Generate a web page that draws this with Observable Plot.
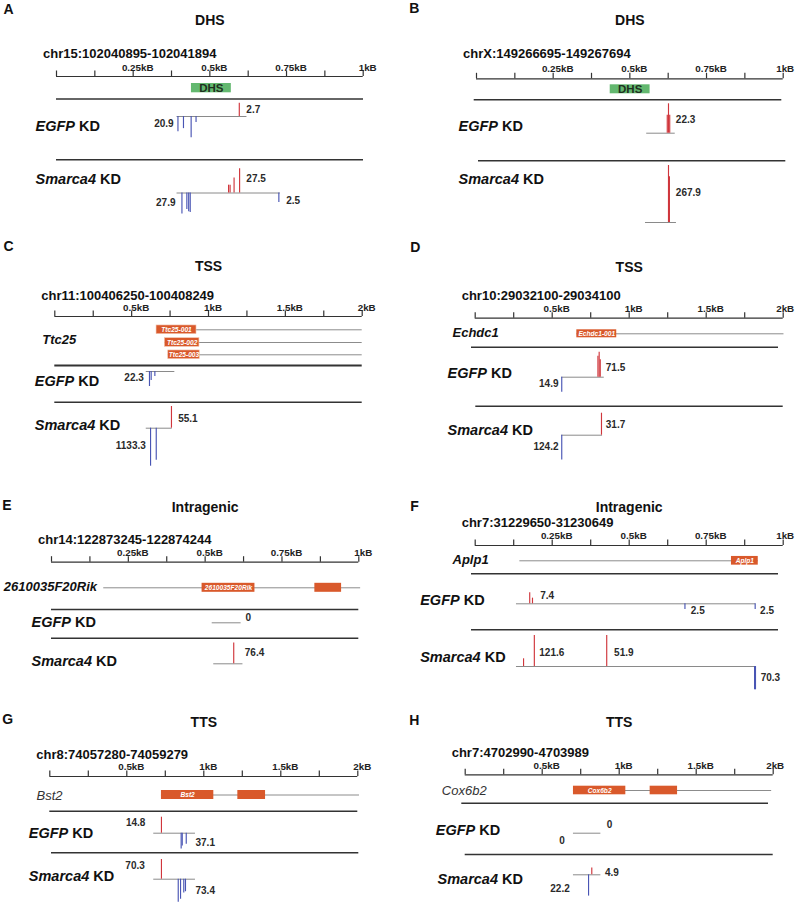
<!DOCTYPE html>
<html>
<head>
<meta charset="utf-8">
<script src="https://cdn.jsdelivr.net/npm/d3@7"></script>
<script src="https://cdn.jsdelivr.net/npm/@observablehq/plot@0.6"></script>
<style>
  html, body { margin: 0; padding: 0; background: #fff; }
  #fig { position: relative; width: 795px; height: 904px; overflow: hidden; background: #fff;
         font-family: "Liberation Sans", Arial, Helvetica, sans-serif; }
  #fig svg { position: absolute; overflow: visible; background: transparent; }
</style>
</head>
<body>
<div id="fig"></div>
<script>
// ================= DATA =================
const panelIds = ["A", "B", "C", "D", "E", "F", "G", "H"];
const panelTitles = ["DHS", "DHS", "TSS", "TSS", "Intragenic", "Intragenic", "TTS", "TTS"];
const regionLabels = [
  "chr15:102040895-102041894", "chrX:149266695-149267694",
  "chr11:100406250-100408249", "chr10:29032100-29034100",
  "chr14:122873245-122874244", "chr7:31229650-31230649",
  "chr8:74057280-74059279", "chr7:4702990-4703989"
];
const spanBp = [1000, 1000, 2000, 2000, 1000, 1000, 2000, 2000];
const tickLabels1kb = ["0.25kB", "0.5kB", "0.75kB", "1kB"];
const tickLabels2kb = ["0.5kB", "1kB", "1.5kB", "2kB"];
const geneNames = [null, null, "Ttc25", "Echdc1", "2610035F20Rik", "Aplp1", "Bst2", "Cox6b2"];
const trackNames = {EGFP: "EGFP KD", Smarca4: "Smarca4 KD"};

const dhsRegions = [
  {panel: "A", start: 440, end: 570, label: "DHS"},
  {panel: "B", start: 436, end: 566, label: "DHS"}
];

const transcriptLines = [
  {panel: "C", row: 0, start: 662, end: 2000},
  {panel: "C", row: 1, start: 716, end: 2000},
  {panel: "C", row: 2, start: 738, end: 2000},
  {panel: "D", row: 0, start: 660, end: 2005},
  {panel: "E", row: 0, start: 170, end: 1006},
  {panel: "F", row: 0, start: 145, end: 919},
  {panel: "G", row: 0, start: 725, end: 2011},
  {panel: "H", row: 0, start: 703, end: 1990}
];

const exons = [
  {panel: "C", row: 0, start: 662, end: 922, label: "Ttc25-001"},
  {panel: "C", row: 1, start: 716, end: 941, label: "Ttc25-002"},
  {panel: "C", row: 2, start: 738, end: 943, label: "Ttc25-003"},
  {panel: "D", row: 0, start: 660, end: 919, label: "Echdc1-001"},
  {panel: "E", row: 0, start: 490, end: 662, label: "2610035F20Rik"},
  {panel: "E", row: 0, start: 857, end: 944, label: ""},
  {panel: "F", row: 0, start: 832, end: 919, label: "Aplp1"},
  {panel: "G", row: 0, start: 725, end: 1065, label: "Bst2"},
  {panel: "G", row: 0, start: 1221, end: 1401, label: ""},
  {panel: "H", row: 0, start: 703, end: 1043, label: "Cox6b2"},
  {panel: "H", row: 0, start: 1201, end: 1379, label: ""}
];

// covered span of each signal track (bp)
const signalSpans = [
  {panel: "A", track: "EGFP", start: 393, end: 621}, {panel: "A", track: "Smarca4", start: 393, end: 730},
  {panel: "B", track: "EGFP", start: 555, end: 648}, {panel: "B", track: "Smarca4", start: 551, end: 652},
  {panel: "C", track: "EGFP", start: 595, end: 781}, {panel: "C", track: "Smarca4", start: 595, end: 764},
  {panel: "D", track: "EGFP", start: 562, end: 838}, {panel: "D", track: "Smarca4", start: 562, end: 827},
  {panel: "E", track: "EGFP", start: 523, end: 617}, {panel: "E", track: "Smarca4", start: 528, end: 623},
  {panel: "F", track: "EGFP", start: 134, end: 911}, {panel: "F", track: "Smarca4", start: 134, end: 911},
  {panel: "G", track: "EGFP", start: 675, end: 946}, {panel: "G", track: "Smarca4", start: 675, end: 946},
  {panel: "H", track: "EGFP", start: 703, end: 881}, {panel: "H", track: "Smarca4", start: 703, end: 881}
];

// signal bars: position (bp) and signed value (+ sense / - antisense)
const signalBars = [
  {panel: "A", track: "EGFP", group: "A+e", pos: 596, value: 2.7},
  {panel: "A", track: "EGFP", group: "A-e", pos: 396, value: -14.9},
  {panel: "A", track: "EGFP", group: "A-e", pos: 414, value: -11.9},
  {panel: "A", track: "EGFP", group: "A-e", pos: 439, value: -20.9},
  {panel: "A", track: "EGFP", group: "A-e", pos: 455, value: -6.0},
  {panel: "A", track: "Smarca4", group: "A+s", pos: 561, value: 8.9},
  {panel: "A", track: "Smarca4", group: "A+s", pos: 566, value: 8.9},
  {panel: "A", track: "Smarca4", group: "A+s", pos: 579, value: 17.0},
  {panel: "A", track: "Smarca4", group: "A+s", pos: 597, value: 27.5},
  {panel: "A", track: "Smarca4", group: "A-s1", pos: 409, value: -27.9},
  {panel: "A", track: "Smarca4", group: "A-s1", pos: 425, value: -22.0},
  {panel: "A", track: "Smarca4", group: "A-s1", pos: 431, value: -25.0},
  {panel: "A", track: "Smarca4", group: "A-s1", pos: 436, value: -26.0},
  {panel: "A", track: "Smarca4", group: "A-s2", pos: 725, value: -2.5},
  {panel: "B", track: "EGFP", group: "B+e", pos: 622, value: 13.6},
  {panel: "B", track: "EGFP", group: "B+e", pos: 626, value: 22.3},
  {panel: "B", track: "EGFP", group: "B+e", pos: 630, value: 13.6},
  {panel: "B", track: "Smarca4", group: "B+s", pos: 626, value: 267.9},
  {panel: "B", track: "Smarca4", group: "B+s", pos: 629, value: 215.0},
  {panel: "C", track: "EGFP", group: "C-e", pos: 616, value: -22.3},
  {panel: "C", track: "EGFP", group: "C-e", pos: 627, value: -13.4},
  {panel: "C", track: "EGFP", group: "C-e", pos: 651, value: -7.4},
  {panel: "C", track: "Smarca4", group: "C+s", pos: 759, value: 55.1},
  {panel: "C", track: "Smarca4", group: "C-s", pos: 623, value: -1133.3},
  {panel: "C", track: "Smarca4", group: "C-s", pos: 660, value: -954.0},
  {panel: "D", track: "EGFP", group: "D+e", pos: 797, value: 60.0},
  {panel: "D", track: "EGFP", group: "D+e", pos: 805, value: 71.5},
  {panel: "D", track: "EGFP", group: "D+e", pos: 812, value: 50.0},
  {panel: "D", track: "EGFP", group: "D-e", pos: 562, value: -14.9},
  {panel: "D", track: "Smarca4", group: "D+s", pos: 820, value: 31.7},
  {panel: "D", track: "Smarca4", group: "D-s", pos: 562, value: -124.2},
  {panel: "E", track: "Smarca4", group: "E+s", pos: 593, value: 76.4},
  {panel: "F", track: "EGFP", group: "F+e", pos: 177, value: 7.4},
  {panel: "F", track: "EGFP", group: "F+e", pos: 186, value: 3.8},
  {panel: "F", track: "EGFP", group: "F-e1", pos: 681, value: -2.5},
  {panel: "F", track: "EGFP", group: "F-e2", pos: 909, value: -2.5},
  {panel: "F", track: "Smarca4", group: "F+s1", pos: 157, value: 30.2},
  {panel: "F", track: "Smarca4", group: "F+s1", pos: 192, value: 121.6},
  {panel: "F", track: "Smarca4", group: "F+s2", pos: 427, value: 51.9},
  {panel: "F", track: "Smarca4", group: "F-s", pos: 907, value: -70.3},
  {panel: "F", track: "Smarca4", group: "F-s", pos: 910, value: -70.3},
  {panel: "G", track: "EGFP", group: "G+e", pos: 725, value: 14.8},
  {panel: "G", track: "EGFP", group: "G-e", pos: 853, value: -37.1},
  {panel: "G", track: "EGFP", group: "G-e", pos: 860, value: -30.0},
  {panel: "G", track: "EGFP", group: "G-e", pos: 886, value: -26.0},
  {panel: "G", track: "Smarca4", group: "G+s", pos: 725, value: 70.3},
  {panel: "G", track: "Smarca4", group: "G-s", pos: 834, value: -73.4},
  {panel: "G", track: "Smarca4", group: "G-s", pos: 849, value: -64.0},
  {panel: "G", track: "Smarca4", group: "G-s", pos: 870, value: -43.7},
  {panel: "G", track: "Smarca4", group: "G-s", pos: 881, value: -40.0},
  {panel: "H", track: "Smarca4", group: "H+s", pos: 822, value: 4.9},
  {panel: "H", track: "Smarca4", group: "H-s", pos: 801, value: -22.2}
];

// peak value labels (pos in bp; anchor: start = label right of pos, end = left of pos)
const peakLabels = [
  {panel: "A", group: "A+e", text: "2.7", pos: 619, anchor: "start"},
  {panel: "A", group: "A-e", text: "20.9", pos: 382, anchor: "end"},
  {panel: "A", group: "A+s", text: "27.5", pos: 619, anchor: "start"},
  {panel: "A", group: "A-s1", text: "27.9", pos: 388, anchor: "end"},
  {panel: "A", group: "A-s2", text: "2.5", pos: 749, anchor: "start"},
  {panel: "B", group: "B+e", text: "22.3", pos: 650, anchor: "start"},
  {panel: "B", group: "B+s", text: "267.9", pos: 650, anchor: "start"},
  {panel: "C", group: "C-e", text: "22.3", pos: 579, anchor: "end"},
  {panel: "C", group: "C+s", text: "55.1", pos: 803, anchor: "start"},
  {panel: "C", group: "C-s", text: "1133.3", pos: 592, anchor: "end"},
  {panel: "D", group: "D+e", text: "71.5", pos: 848, anchor: "start"},
  {panel: "D", group: "D-e", text: "14.9", pos: 541, anchor: "end"},
  {panel: "D", group: "D+s", text: "31.7", pos: 848, anchor: "start"},
  {panel: "D", group: "D-s", text: "124.2", pos: 541, anchor: "end"},
  {panel: "E", group: "E+e", text: "0", pos: 631, anchor: "start"},
  {panel: "E", group: "E+s", text: "76.4", pos: 629, anchor: "start"},
  {panel: "F", group: "F+e", text: "7.4", pos: 211, anchor: "start"},
  {panel: "F", group: "F-e1", text: "2.5", pos: 700, anchor: "start"},
  {panel: "F", group: "F-e2", text: "2.5", pos: 925, anchor: "start"},
  {panel: "F", group: "F+s1", text: "121.6", pos: 208, anchor: "start"},
  {panel: "F", group: "F+s2", text: "51.9", pos: 451, anchor: "start"},
  {panel: "F", group: "F-s", text: "70.3", pos: 927, anchor: "start"},
  {panel: "G", group: "G+e", text: "14.8", pos: 621, anchor: "end"},
  {panel: "G", group: "G-e", text: "37.1", pos: 946, anchor: "start"},
  {panel: "G", group: "G+s", text: "70.3", pos: 617, anchor: "end"},
  {panel: "G", group: "G-s", text: "73.4", pos: 946, anchor: "start"},
  {panel: "H", group: "H+e", text: "0", pos: 919, anchor: "start"},
  {panel: "H", group: "H-e", text: "0", pos: 647, anchor: "end"},
  {panel: "H", group: "H+s", text: "4.9", pos: 907, anchor: "start"},
  {panel: "H", group: "H-s", text: "22.2", pos: 679, anchor: "end"}
];

// ================= LAYOUT (page pixels) =================
const panelLayout = {
  A: {left: 0, top: 0, W: 397, H: 215, x0: 56, x1: 362.7, letterX: 3, letterY: 9, titleY: 20, chrY: 57.5,
      axisY: 76, tickY: 70, dhsY: [83, 92.3],
      seps: [[98.5, 56, 363, 1.4], [159.3, 56, 363, 1.4]],
      EGFP: {lx: 35, ly: 130.7, base: 116}, Smarca4: {lx: 35, ly: 183.3, base: 192.5}},
  B: {left: 397, top: 0, W: 398, H: 215, x0: 476, x1: 782.7, letterX: 408.7, letterY: 8.5, titleY: 20, chrY: 57.5,
      axisY: 78.3, tickY: 71.7, dhsY: [84.3, 93.3],
      seps: [[99.3, 473.7, 781.3, 1.4], [160.3, 478, 785.3, 1.4]],
      EGFP: {lx: 458, ly: 130.7, base: 132.7}, Smarca4: {lx: 458, ly: 183.3, base: 222}},
  C: {left: 0, top: 215, W: 397, H: 255, x0: 54.3, x1: 361.7, letterX: 3, letterY: 246.3, titleY: 265.7, chrY: 299,
      axisY: 316, tickY: 310.5, gene: {lx: 41.7, ly: 343, weight: "bold"}, geneRows: [329.3, 342, 354.3], exonH: 8.7,
      seps: [[365, 54.3, 361.7, 2.2], [401.7, 54.3, 361.7, 1.4]],
      EGFP: {lx: 34.3, ly: 385.7, base: 371}, Smarca4: {lx: 34.3, ly: 429.5, base: 427.7}},
  D: {left: 397, top: 215, W: 398, H: 255, x0: 474.7, x1: 782.7, letterX: 409.7, letterY: 247, titleY: 266.7, chrY: 299,
      axisY: 317.7, tickY: 311.3, gene: {lx: 452, ly: 336.7, weight: "bold"}, geneRows: [333.3], exonH: 8,
      seps: [[346.7, 471, 778, 1.4], [405.7, 475.3, 782.7, 1.4]],
      EGFP: {lx: 447, ly: 377.3, base: 376.7}, Smarca4: {lx: 447, ly: 434, base: 434.7}},
  E: {left: 0, top: 430, W: 397, H: 215, x0: 51, x1: 358.3, letterX: 1.7, letterY: 505.3, titleY: 506.7, chrY: 543.3,
      axisY: 561.7, tickY: 555, gene: {lx: 3.3, ly: 590.7, weight: "bold"}, geneRows: [587.3], exonH: 9,
      seps: [[609, 51, 358.3, 1.4], [637.7, 51, 358.3, 1.4]],
      EGFP: {lx: 31, ly: 626.7, base: 622.3}, Smarca4: {lx: 31, ly: 665, base: 663.3}},
  F: {left: 397, top: 430, W: 398, H: 215, x0: 474.7, x1: 782.7, letterX: 409.7, letterY: 506.2, titleY: 507.3, chrY: 526.7,
      axisY: 545, tickY: 538.3, gene: {lx: 452, ly: 563, weight: "bold"}, geneRows: [560.3], exonH: 8.7,
      seps: [[573.3, 471, 778, 1.4], [629.3, 471, 778, 1.4]],
      EGFP: {lx: 419.7, ly: 604, base: 603.3}, Smarca4: {lx: 419.7, ly: 661, base: 666}},
  G: {left: 0, top: 640, W: 397, H: 264, x0: 49.3, x1: 357.3, letterX: 1.7, letterY: 719.5, titleY: 721.7, chrY: 758.3,
      axisY: 776, tickY: 769.3, gene: {lx: 36, ly: 799, weight: "normal"}, geneRows: [794.5], exonH: 9,
      seps: [[810.7, 49.3, 357.3, 1.4], [852.3, 51, 358.3, 1.4]],
      EGFP: {lx: 28.3, ly: 837.3, base: 832.7}, Smarca4: {lx: 28.3, ly: 880, base: 878.7}},
  H: {left: 397, top: 640, W: 398, H: 264, x0: 464.7, x1: 772.7, letterX: 408.7, letterY: 720, titleY: 721.7, chrY: 756.7,
      axisY: 774.3, tickY: 768.3, gene: {lx: 441.3, ly: 794.3, weight: "normal"}, geneRows: [790], exonH: 8.6,
      seps: [[802.7, 461.3, 768, 1.4], [854, 464.7, 772.7, 1.4]],
      EGFP: {lx: 435.3, ly: 834, base: 832.7}, Smarca4: {lx: 437, ly: 883.3, base: 874.3}}
};

// pixel height of each bar group's tallest bar, and label centre y
const groupLayout = {
  "A+e": {px: 13.3, ly: 109}, "A-e": {px: 21.3, ly: 123.3}, "A+s": {px: 24.2, ly: 178.3},
  "A-s1": {px: 21, ly: 202.3}, "A-s2": {px: 9.5, ly: 200},
  "B+e": {px: 29.4, ly: 119.3}, "B+s": {px: 57, ly: 192.3},
  "C-e": {px: 15, ly: 377.7}, "C+s": {px: 21.7, ly: 418}, "C-s": {px: 38, ly: 445.3},
  "D+e": {px: 25, ly: 367.7}, "D-e": {px: 15, ly: 383.3}, "D+s": {px: 22, ly: 424}, "D-s": {px: 24.7, ly: 446.7},
  "E+e": {px: 0, ly: 617.3}, "E+s": {px: 20.7, ly: 652.7},
  "F+e": {px: 11, ly: 595}, "F-e1": {px: 5.7, ly: 610.7}, "F-e2": {px: 5.7, ly: 610.7},
  "F+s1": {px: 31, ly: 652.3}, "F+s2": {px: 31, ly: 652.3}, "F-s": {px: 23.3, ly: 677.7},
  "G+e": {px: 16, ly: 822.7}, "G-e": {px: 15.7, ly: 842.3}, "G+s": {px: 19.7, ly: 865}, "G-s": {px: 23, ly: 890.7},
  "H+e": {px: 0, ly: 824}, "H-e": {px: 0, ly: 840}, "H+s": {px: 6.7, ly: 872.3}, "H-s": {px: 21.3, ly: 888.3}
};

const FONT = '"Liberation Sans", Arial, Helvetica, sans-serif';
const RED = "#d0363c", BLUE = "#4955b4", EXON = "#d9592b", GREEN = "#63b86f";

const groupMax = d3.rollup(signalBars, v => d3.max(v, d => Math.abs(d.value)), d => d.group);

function buildPanel(i) {
  const id = panelIds[i], L = spanBp[i], lay = panelLayout[id];
  const toBp = px => (px - lay.x0) / (lay.x1 - lay.x0) * L;
  const ticks = d3.range(0, L + 1, L / 8);
  const tickLabs = (L === 1000 ? tickLabels1kb : tickLabels2kb).map((t, k) => ({t, x: (k + 1) * L / 4}));
  const rightCol = lay.left > 0;
  const dhs = dhsRegions.filter(d => d.panel === id);
  const lines = transcriptLines.filter(d => d.panel === id);
  const ex = exons.filter(d => d.panel === id);
  const spans = signalSpans.filter(d => d.panel === id);
  const bars = signalBars.filter(d => d.panel === id);
  const labs = peakLabels.filter(d => d.panel === id);
  const barTop = d => lay[d.track].base - d.value / groupMax.get(d.group) * groupLayout[d.group].px;
  const rowY = d => lay.geneRows[d.row];
  const tickFont = {fontSize: 9.8, fontWeight: "bold", fill: "#222", lineAnchor: "bottom"};

  const marks = [
    // panel letter
    Plot.text([id], {frameAnchor: "left", y: () => lay.letterY, dx: lay.letterX - lay.left, text: d => d,
      textAnchor: "start", lineAnchor: "middle", fontSize: 14, fontWeight: "bold", fill: "#111"}),
    // title
    Plot.text([panelTitles[i]], {x: L / 2, y: () => lay.titleY, text: d => d, lineAnchor: "middle",
      fontSize: 14, fontWeight: "bold", fill: "#111"}),
    // region label
    Plot.text([regionLabels[i]], {x: 0, y: () => lay.chrY, text: d => d, dx: -13.5, textAnchor: "start",
      lineAnchor: "bottom", fontSize: 13, fontWeight: "bold", fill: "#111"}),
    // axis
    Plot.ruleY([lay.axisY], {x1: 0, x2: L, stroke: "#333", strokeWidth: 1.2}),
    Plot.ruleX(ticks, {x: d => d, y1: lay.axisY - 5.5, y2: lay.axisY, stroke: "#333", strokeWidth: 1.2}),
    Plot.text(tickLabs.slice(0, 3), {x: "x", y: () => lay.tickY, text: "t", dx: 4.5, ...tickFont}),
    Plot.text(tickLabs.slice(3), {x: "x", y: () => lay.tickY, text: "t", dx: rightCol ? 2 : 4.5, ...tickFont}),
    // separators
    Plot.ruleY(lay.seps, {y: d => d[0], x1: d => toBp(d[1]), x2: d => toBp(d[2]), strokeWidth: d => d[3], stroke: "#333"})
  ];

  if (dhs.length) {
    marks.push(
      Plot.rect(dhs, {x1: "start", x2: "end", y1: lay.dhsY[0], y2: lay.dhsY[1], fill: GREEN}),
      Plot.text(dhs, {x: d => (d.start + d.end) / 2, y: () => (lay.dhsY[0] + lay.dhsY[1]) / 2 + 0.3, text: "label",
        lineAnchor: "middle", fontSize: 11.5, fontWeight: "bold", fill: "#1e3020"})
    );
  }
  if (lay.gene) {
    marks.push(
      Plot.ruleY(lines, {y: rowY, x1: "start", x2: "end", stroke: "#8c8c8c", strokeWidth: 1}),
      Plot.rect(ex, {x1: "start", x2: "end", y1: d => rowY(d) - lay.exonH / 2, y2: d => rowY(d) + lay.exonH / 2,
        fill: EXON, stroke: id === "C" ? "#f3c7b3" : "none", strokeWidth: 0.6}),
      Plot.text(ex.filter(d => d.label), {x: d => (d.start + d.end) / 2, y: rowY, text: "label", lineAnchor: "middle",
        fontSize: 6.6, fontStyle: "italic", fontWeight: "bold", fill: "#fff"}),
      Plot.text([geneNames[i]], {frameAnchor: "left", y: () => lay.gene.ly, dx: lay.gene.lx - lay.left, text: d => d,
        textAnchor: "start", lineAnchor: "bottom", fontSize: 13, fontStyle: "italic",
        fontWeight: lay.gene.weight, fill: lay.gene.weight === "bold" ? "#111" : "#333"})
    );
  }
  // track labels
  for (const tr of ["EGFP", "Smarca4"]) {
    marks.push(Plot.text([trackNames[tr]], {frameAnchor: "left", y: () => lay[tr].ly, dx: lay[tr].lx - lay.left,
      text: d => d, textAnchor: "start", lineAnchor: "bottom", fontSize: 14.5, fontWeight: "bold", fill: "#111"}));
  }
  marks.push(
    // track baselines
    Plot.ruleY(spans, {y: d => lay[d.track].base, x1: "start", x2: "end", stroke: "#8a8a8a", strokeWidth: 1}),
    // signal bars
    Plot.ruleX(bars, {x: "pos", y1: d => lay[d.track].base, y2: barTop,
      stroke: d => d.value > 0 ? RED : BLUE, strokeWidth: 1.15}),
    // peak labels
    Plot.text(labs.filter(d => d.anchor === "start"), {x: "pos", y: d => groupLayout[d.group].ly, text: "text",
      textAnchor: "start", lineAnchor: "middle", fontSize: 10, fontWeight: "bold", fill: "#2a2a2a"}),
    Plot.text(labs.filter(d => d.anchor === "end"), {x: "pos", y: d => groupLayout[d.group].ly, text: "text",
      textAnchor: "end", lineAnchor: "middle", fontSize: 10, fontWeight: "bold", fill: "#2a2a2a"})
  );

  const svg = Plot.plot({
    width: lay.W, height: lay.H, margin: 0,
    x: {domain: [0, L], range: [lay.x0 - lay.left, lay.x1 - lay.left], axis: null},
    y: {domain: [lay.top, lay.top + lay.H], range: [0, lay.H], axis: null},
    style: {background: "transparent", overflow: "visible", fontFamily: FONT},
    marks
  });
  svg.style.left = lay.left + "px";
  svg.style.top = lay.top + "px";
  // italicise the knock-down gene name inside "XXX KD" track labels
  svg.querySelectorAll("text").forEach(t => {
    const s = t.textContent;
    if (/ KD$/.test(s) && t.children.length === 0) {
      const name = s.slice(0, -3);
      t.textContent = "";
      const ts = document.createElementNS("http://www.w3.org/2000/svg", "tspan");
      ts.setAttribute("font-style", "italic");
      ts.textContent = name;
      t.appendChild(ts);
      t.appendChild(document.createTextNode(" KD"));
    }
  });
  return svg;
}

const fig = document.getElementById("fig");
panelIds.forEach((id, i) => fig.appendChild(buildPanel(i)));
</script>
</body>
</html>
